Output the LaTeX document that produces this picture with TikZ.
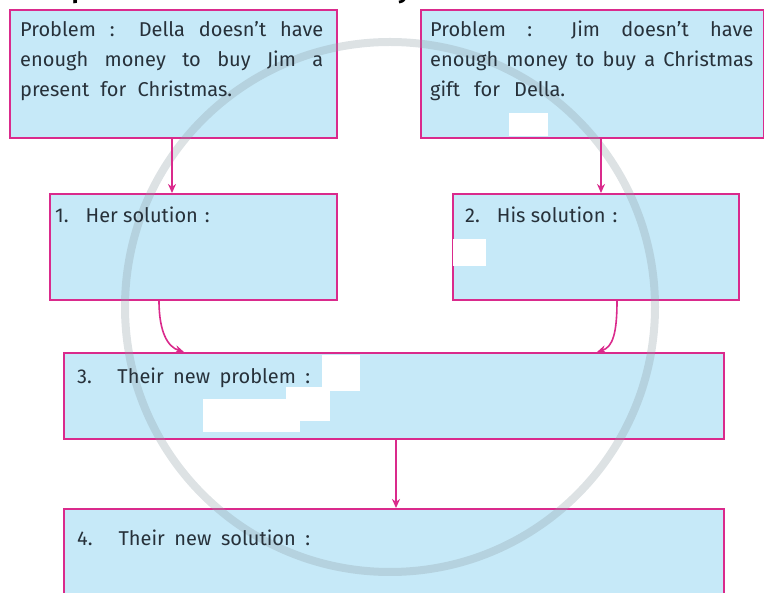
\documentclass[tikz,border=0pt]{standalone}
\usepackage{fontspec}
\setmainfont{Fira Sans}
\usetikzlibrary{arrows.meta}
\definecolor{boxfill}{HTML}{C6E9F8}
\definecolor{boxline}{HTML}{DA2A8C}
\definecolor{txtcol}{HTML}{27313A}
\definecolor{wmark}{HTML}{8E9EA6}
\begin{document}
\begin{tikzpicture}[x=1pt,y=-1pt,
  box/.style={draw=boxline, fill=boxfill, line width=1.6pt, rectangle, anchor=north west, inner sep=0pt},
  txt/.style={text=txtcol, font=\fontsize{20}{30}\selectfont, inner sep=0pt, anchor=base west},
  arr/.style={draw=boxline, line width=1.6pt, -{Stealth[length=9pt,width=8pt]}},
  patch/.style={fill=white, draw=none}]
\useasboundingbox (0,0) rectangle (764,593);
% heading remnants
\node[font=\bfseries\fontsize{24}{30}\selectfont, inner sep=0pt, anchor=base] (hp) at (79,-1.5) {p};
\node[font=\bfseries\fontsize{24}{30}\selectfont, inner sep=0pt, anchor=base] (hy) at (404,-1.5) {y};
% boxes
\node[box, minimum width=327pt, minimum height=128pt] (A) at (9,9) {};
\node[box, minimum width=343pt, minimum height=128pt] (B) at (420,9) {};
\node[box, minimum width=287pt, minimum height=106pt] (H) at (49,193) {};
\node[box, minimum width=286pt, minimum height=106pt] (S) at (452,193) {};
\node[box, minimum width=660pt, minimum height=86pt] (N) at (63,352) {};
\node[box, minimum width=660pt, minimum height=100pt] (F) at (63,508) {};
% watermark
\draw[wmark, line width=8pt, opacity=0.3] (390,307) circle[radius=265];
% white patches
\fill[patch] (509,113) rectangle (548,136);
\fill[patch] (453,239) rectangle (486,266);
\fill[patch] (322,355) rectangle (360,391);
\fill[patch] (286,387) rectangle (330,421);
\fill[patch] (203,399) rectangle (300,432);
% texts
\node[txt] (a1) at (20,37) {\makebox[303pt][s]{Problem : Della doesn’t have}};
\node[txt] (a2) at (20,67) {\makebox[303pt][s]{enough money to buy Jim a}};
\node[txt] (a3) at (20,97) {\makebox[212pt][s]{present for Christmas.}};
\node[txt] (b1) at (430,37) {\makebox[323pt][s]{Problem : Jim doesn’t have}};
\node[txt] (b2) at (430,67) {\makebox[323pt][s]{enough money to buy a Christmas}};
\node[txt] (b3) at (430,97) {\makebox[135pt][s]{gift for Della.}};
\node[txt] (h1) at (55,223) {1.\hspace{0.85em}Her solution\hspace{0.35em}:};
\node[txt] (s1) at (465,223) {2.\hspace{0.85em}His solution\hspace{0.35em}:};
\node[txt] (n1) at (77,384) {\makebox[233pt][s]{3.\hspace{0.3em} Their new problem :}};
\node[txt] (f1) at (77,546) {\makebox[233pt][s]{4.\hspace{0.3em} Their new solution :}};
% connectors
\draw[arr] ([xshift=163pt]A.south west) -- ([xshift=123pt]H.north west);
\draw[arr] ([xshift=181pt]B.south west) -- ([xshift=149pt]S.north west);
\draw[arr] ([xshift=110pt]H.south west) .. controls +(0,32) and +(-16,-5) .. ([xshift=121pt]N.north west);
\draw[arr] ([xshift=165pt]S.south west) .. controls +(0,32) and +(16,-5) .. ([xshift=534pt]N.north west);
\draw[arr] ([xshift=333pt]N.south west) -- ([xshift=333pt]F.north west);
\end{tikzpicture}
\end{document}
